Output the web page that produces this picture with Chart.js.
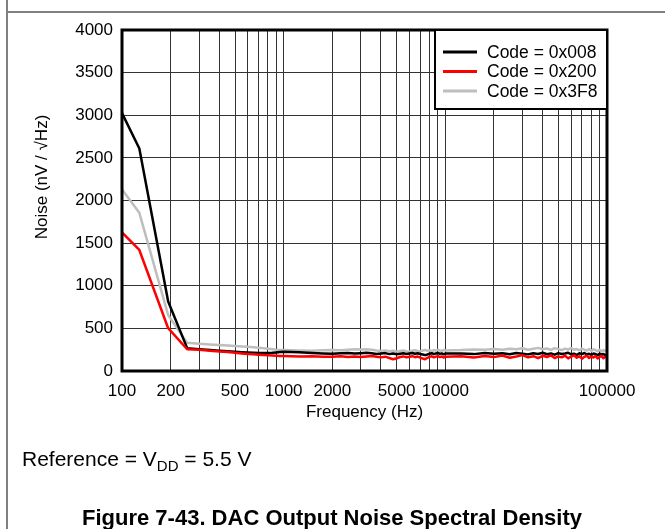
<!DOCTYPE html>
<html>
<head>
<meta charset="utf-8">
<title>DAC Output Noise Spectral Density</title>
<script src="https://cdn.jsdelivr.net/npm/chart.js@4.4.1/dist/chart.umd.min.js"></script>
<style>
  html, body { margin: 0; padding: 0; background: #fff; }
  #c { display: block; }
</style>
</head>
<body>
<canvas id="c" width="665" height="529"></canvas>
<script>
// Frequency points (Hz)
const freqLow  = [100, 128, 193, 253];
const freqMid  = [300, 350, 400, 450, 500, 550, 600, 650, 700, 750, 800, 850, 900, 950, 1000];
const freqHigh = [1250, 1500, 1750, 2000, 2250, 2500, 2750, 3000, 3250, 3500, 3750, 4000,
                  4250, 4500, 4750, 5000, 5250, 5500, 5750, 6000, 6250, 6500, 6750, 7000,
                  7250, 7500, 7750, 8000, 8250, 8500, 8750, 9000, 9250, 9500, 9750, 10000];
const freqTop  = [12500, 15000, 17500, 20000, 22500, 25000, 27500, 30000, 32500, 35000, 37500, 40000,
                  42500, 45000, 47500, 50000, 52500, 55000, 57500, 60000, 62500, 65000, 67500, 70000,
                  72500, 75000, 77500, 80000, 82500, 85000, 87500, 90000, 92500, 95000, 97500, 100000];
const frequencies = [...freqLow, ...freqMid, ...freqHigh, ...freqTop];

// Noise density, nV/√Hz
const code008 = [
  3025, 2610, 815, 268,
  256, 246, 238, 232, 226, 221, 217, 214, 212, 211, 212, 214, 218, 222, 225,
  220, 212, 206, 203, 208, 212, 205, 209, 214, 207, 200, 204, 210, 198, 205, 196, 203, 209,
  200, 206, 211, 202, 208, 199, 193, 186, 194, 203, 209, 198, 206, 212, 201, 207, 196, 204,
  205, 198, 210, 201, 207, 196, 212, 203, 195, 209, 200, 214, 197, 206, 192, 210, 199, 205,
  214, 196, 203, 190, 208, 198, 211, 194, 202, 188, 206, 197, 185, 203, 192, 199, 187, 195
];
const code200 = [
  1625, 1420, 502, 255,
  248, 238, 230, 222, 214, 206, 200, 196, 192, 188, 185, 182, 179, 177, 175,
  170, 172, 166, 168, 174, 165, 170, 163, 169, 175, 166, 160, 168, 152, 138, 150, 164, 171,
  160, 167, 174, 162, 169, 158, 146, 138, 155, 166, 172, 160, 168, 175, 163, 170, 158, 167,
  172, 158, 176, 163, 181, 155, 170, 186, 160, 174, 150, 178, 164, 183, 152, 171, 160, 179,
  148, 168, 184, 156, 173, 145, 166, 180, 152, 170, 158, 175, 147, 164, 177, 150, 169, 157
];
const code3F8 = [
  2130, 1855, 655, 330,
  320, 312, 305, 298, 292, 288, 284, 279, 272, 266, 260, 255, 250, 247, 245,
  240, 238, 244, 247, 243, 250, 255, 252, 256, 248, 240, 236, 242, 232, 238, 230, 236, 241,
  233, 229, 238, 244, 235, 231, 240, 247, 237, 242, 234, 245, 238, 249, 240, 236, 246, 241,
  245, 252, 248, 258, 250, 262, 254, 266, 249, 260, 271, 255, 264, 248, 268, 257, 246, 263,
  252, 270, 249, 258, 243, 262, 251, 240, 259, 236, 255, 244, 231, 250, 228, 246, 233, 240
];

// Axis ticks
const gridFreqs = [100, 200, 300, 400, 500, 600, 700, 800, 900,
                   1000, 2000, 3000, 4000, 5000, 6000, 7000, 8000, 9000,
                   10000, 20000, 30000, 40000, 50000, 60000, 70000, 80000, 90000, 100000];
const labeledFreqs = [100, 200, 500, 1000, 2000, 5000, 10000, 100000];
const noiseTicks = [0, 500, 1000, 1500, 2000, 2500, 3000, 3500, 4000];

const FONT = '"Liberation Sans", Arial, Helvetica, sans-serif';
Chart.defaults.font.family = FONT;
Chart.defaults.color = '#000';

const toPoints = (vals) => vals.map((v, i) => ({ x: frequencies[i], y: v }));

// Page frame, plot frame, y title, in-plot legend and the notes under the plot
const figureDecor = {
  id: 'figureDecor',
  beforeDraw(chart) {
    const ctx = chart.ctx;
    ctx.save();
    ctx.fillStyle = '#fff';
    ctx.fillRect(0, 0, chart.width, chart.height);
    ctx.strokeStyle = '#808080';
    ctx.lineWidth = 2;
    ctx.beginPath();
    ctx.moveTo(7, 0); ctx.lineTo(7, chart.height);
    ctx.moveTo(7, 12); ctx.lineTo(chart.width, 12);
    ctx.stroke();
    ctx.restore();
  },
  afterDatasetsDraw(chart) {
    const { ctx, chartArea: a } = chart;
    ctx.save();
    ctx.strokeStyle = '#000';
    ctx.lineWidth = 3;
    ctx.strokeRect(a.left, a.top, a.right - a.left, a.bottom - a.top);

    // legend box in the top-right corner of the plot
    const bw = 172, bh = 79;
    const bx = a.right - bw, by = a.top;
    ctx.fillStyle = '#fff';
    ctx.fillRect(bx, by, bw, bh);
    ctx.lineWidth = 2;
    ctx.strokeRect(bx, by, bw, bh);
    ctx.font = '17.5px ' + FONT;
    ctx.textBaseline = 'middle';
    ctx.textAlign = 'left';
    chart.data.datasets.forEach((ds, i) => {
      const y = by + 22 + i * 19.5;
      ctx.strokeStyle = ds.borderColor;
      ctx.lineWidth = 3;
      ctx.beginPath();
      ctx.moveTo(bx + 8, y);
      ctx.lineTo(bx + 42, y);
      ctx.stroke();
      ctx.fillStyle = '#000';
      ctx.fillText(ds.label, bx + 52, y + 1);
    });
    ctx.restore();
  },
  afterDraw(chart) {
    const ctx = chart.ctx;
    ctx.save();
    ctx.fillStyle = '#000';

    // y axis title
    ctx.save();
    ctx.translate(42, 177);
    ctx.rotate(-Math.PI / 2);
    ctx.font = '17px ' + FONT;
    ctx.textAlign = 'center';
    ctx.textBaseline = 'middle';
    ctx.fillText('Noise (nV / √Hz)', 0, 0);
    ctx.restore();

    ctx.textBaseline = 'alphabetic';
    ctx.textAlign = 'left';
    // Reference = V_DD = 5.5 V
    let x = 22;
    const base = 466;
    ctx.font = '21px ' + FONT;
    ctx.fillText('Reference = V', x, base);
    x += ctx.measureText('Reference = V').width;
    ctx.font = '15px ' + FONT;
    ctx.fillText('DD', x, base + 5);
    x += ctx.measureText('DD').width;
    ctx.font = '21px ' + FONT;
    ctx.fillText(' = 5.5 V', x, base);
    // figure caption
    ctx.font = 'bold 22px ' + FONT;
    ctx.textAlign = 'center';
    ctx.fillText('Figure 7-43. DAC Output Noise Spectral Density', 332, 525);
    ctx.restore();
  }
};

new Chart(document.getElementById('c'), {
  type: 'line',
  data: {
    datasets: [
      { label: 'Code = 0x008', data: toPoints(code008), borderColor: '#000000', order: 1 },
      { label: 'Code = 0x200', data: toPoints(code200), borderColor: '#ff0000', order: 0 },
      { label: 'Code = 0x3F8', data: toPoints(code3F8), borderColor: '#bebebe', order: 2 }
    ]
  },
  options: {
    responsive: false,
    animation: false,
    devicePixelRatio: 1,
    layout: { padding: { left: 0, right: 58, top: 30, bottom: 98 } },
    elements: {
      point: { radius: 0 },
      line: { borderWidth: 2.5, tension: 0, borderJoinStyle: 'round', fill: false }
    },
    plugins: {
      legend: { display: false },
      tooltip: { enabled: false }
    },
    scales: {
      x: {
        type: 'logarithmic',
        min: 100,
        max: 100000,
        afterBuildTicks: (s) => { s.ticks = gridFreqs.map(v => ({ value: v })); },
        afterFit: (s) => { s.height = 60; },
        grid: { color: '#333', lineWidth: 1, drawTicks: false },
        border: { display: false },
        ticks: {
          autoSkip: false, maxRotation: 0, minRotation: 0, padding: 10,
          font: { size: 17 }, color: '#000',
          callback: (v) => labeledFreqs.includes(v) ? String(v) : ''
        },
        title: {
          display: true, text: 'Frequency (Hz)', color: '#000',
          font: { size: 17 }, padding: { top: 0, bottom: 8 }
        }
      },
      y: {
        min: 0,
        max: 4000,
        afterBuildTicks: (s) => { s.ticks = noiseTicks.map(v => ({ value: v })); },
        afterFit: (s) => { s.width = 122; },
        grid: { color: '#333', lineWidth: 1, drawTicks: false },
        border: { display: false },
        ticks: { padding: 9, font: { size: 17 }, color: '#000', callback: (v) => String(v) }
      }
    }
  },
  plugins: [figureDecor]
});
</script>
</body>
</html>
